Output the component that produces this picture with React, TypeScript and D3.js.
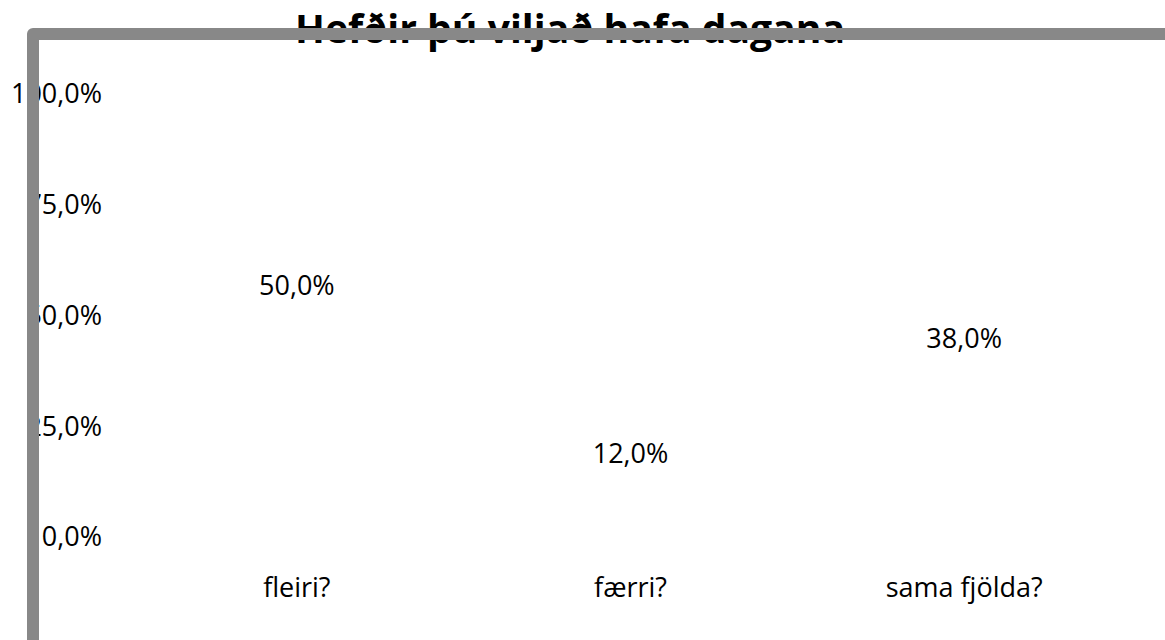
import React from "react";
import * as d3 from "d3";

const title = "Hefðir þú viljað hafa dagana";
const categories = ["fleiri?", "færri?", "sama fjölda?"];
const values = [50.0, 12.0, 38.0];
const yTicks = [0, 25, 50, 75, 100];

const W = 1165;
const H = 640;
const FONT = "'Open Sans', 'Noto Sans', sans-serif";

const fmt = (v: number) => v.toFixed(1).replace(".", ",") + "%";

export default function App() {
  const x = d3.scaleBand<string>().domain(categories).range([130, 1131]);
  const y = d3.scaleLinear().domain([0, 100]).range([537, 94]);
  const frame = d3.line()([
    [33, H + 20],
    [33, 34],
    [W + 20, 34],
  ]);

  return (
    <svg
      width={W}
      height={H}
      style={{ position: "absolute", left: 0, top: 0, background: "#fff" }}
    >
      <text
        x={570}
        y={43}
        textAnchor="middle"
        fontFamily={FONT}
        fontWeight="bold"
        fontSize={40}
        textLength={550}
        lengthAdjust="spacingAndGlyphs"
        fill="#000"
      >
        {title}
      </text>
      {yTicks.map((t) => (
        <text
          key={t}
          x={102}
          y={y(t)}
          dy="0.35em"
          textAnchor="end"
          fontFamily={FONT}
          fontSize={27}
          fill="#000"
        >
          {fmt(t)}
        </text>
      ))}
      {categories.map((c, i) => (
        <g key={c}>
          <text
            x={(x(c) as number) + x.bandwidth() / 2}
            y={y(values[i]) - 30}
            dy="0.35em"
            textAnchor="middle"
            fontFamily={FONT}
            fontSize={27}
            fill="#000"
          >
            {fmt(values[i])}
          </text>
          <text
            x={(x(c) as number) + x.bandwidth() / 2}
            y={597}
            textAnchor="middle"
            fontFamily={FONT}
            fontSize={27}
            fill="#000"
          >
            {c}
          </text>
        </g>
      ))}
      <path
        d={frame || ""}
        fill="none"
        stroke="#888888"
        strokeWidth={12}
        strokeLinejoin="round"
      />
    </svg>
  );
}
